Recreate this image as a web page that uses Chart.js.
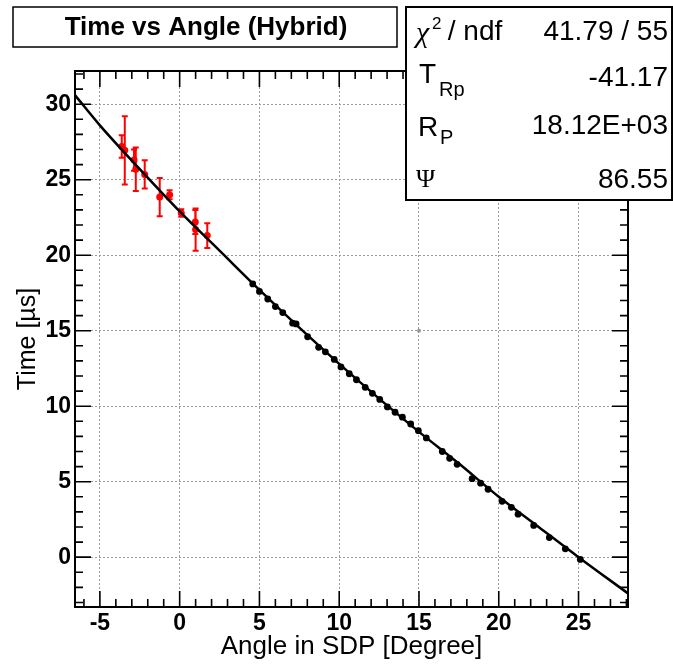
<!DOCTYPE html>
<html>
<head>
<meta charset="utf-8">
<script src="https://cdn.jsdelivr.net/npm/chart.js@4.4.0/dist/chart.umd.min.js"></script>
<style>
  body { margin: 0; background: #fff; }
  canvas { display: block; }
</style>
</head>
<body>
<canvas id="chart" width="673" height="664"></canvas>
<script>
// Values

const xTicks = [-5, 0, 5, 10, 15, 20, 25];
const yTicks = [0, 5, 10, 15, 20, 25, 30];

// FD pixels (black)
const fdAngle = [4.58, 5.0, 5.52, 6.0, 6.46, 7.08, 7.3, 8.02, 8.71, 9.13, 9.69, 10.11,
  10.63, 11.08, 11.63, 12.08, 12.54, 13.02, 13.5, 13.96, 14.48, 14.96, 15.46, 16.46,
  16.92, 17.39, 18.33, 18.86, 19.33, 20.21, 20.79, 21.21, 22.19, 23.17, 24.17, 25.11];
const fdTime = [18.1, 17.6, 17.1, 16.6, 16.2, 15.5, 15.45, 14.6, 13.9, 13.6, 13.1, 12.6,
  12.15, 11.75, 11.25, 10.85, 10.45, 9.95, 9.6, 9.27, 8.82, 8.38, 7.9, 7.0,
  6.55, 6.15, 5.2, 4.9, 4.5, 3.7, 3.3, 2.85, 2.1, 1.3, 0.55, -0.15];

// SD stations (red) with their errors
const sdAngle = [-3.63, -3.44, -2.86, -2.75, -2.19, -1.25, -0.63, 0.1, 0.98, 1.0, 1.73];
const sdTime = [27.2, 26.95, 26.3, 25.7, 25.35, 23.85, 24.0, 22.8, 22.2, 21.7, 21.3];
const sdErr = [0.75, 2.26, 0.7, 1.44, 0.94, 1.27, 0.3, 0.25, 0.8, 1.4, 0.82];

// the lone grey mark
const greyAngle = [15.0];
const greyTime = [15.0];

// fitted curve, read along its length
const fitAngle = [-6.56, -5, -2.5, 0, 2.5, 5, 7.5, 10, 12.5, 15, 17.5, 20, 22.5, 25, 28.1];
const fitTime = [30.6, 28.6, 25.7, 22.9, 20.3, 17.7, 15.2, 12.8, 10.5, 8.3, 6.2, 4.0, 2.0, 0.0, -2.4];

const statValues = ['41.79 / 55', '-41.17', '18.12E+03', '86.55'];

const FONT = '"Liberation Sans", Arial, sans-serif';
const SERIF = '"Liberation Serif", "DejaVu Serif", serif';

const toXY = (xs, ys) => xs.map((v, i) => ({ x: v, y: ys[i] }));

// ROOT-like frame, inward ticks, titles and stats box
const rootDecor = {
    id: 'rootDecor',
    beforeDatasetsDraw(chart) {
        const { ctx, scales: { x, y } } = chart;
        ctx.save();
        ctx.strokeStyle = '#ff0000';
        ctx.lineWidth = 2;
        ctx.beginPath();
        sdAngle.forEach((a, i) => {
            const px = x.getPixelForValue(a);
            const top = y.getPixelForValue(sdTime[i] + sdErr[i]);
            const bot = y.getPixelForValue(sdTime[i] - sdErr[i]);
            ctx.moveTo(px, top); ctx.lineTo(px, bot);
            ctx.moveTo(px - 3, top); ctx.lineTo(px + 3, top);
            ctx.moveTo(px - 3, bot); ctx.lineTo(px + 3, bot);
        });
        ctx.stroke();
        ctx.restore();
    },
    afterDraw(chart) {
        const { ctx, chartArea: a, scales: { x, y } } = chart;
        ctx.save();

        // frame
        ctx.strokeStyle = '#000';
        ctx.lineWidth = 2;
        ctx.strokeRect(a.left, a.top, a.right - a.left, a.bottom - a.top);

        // ticks, pointing inward on all four sides
        ctx.lineWidth = 1.6;
        ctx.beginPath();
        for (let v = Math.ceil(x.min); v <= x.max; v++) {
            const px = x.getPixelForValue(v);
            const len = v % 5 === 0 ? 16 : 8;
            ctx.moveTo(px, a.bottom); ctx.lineTo(px, a.bottom - len);
            ctx.moveTo(px, a.top); ctx.lineTo(px, a.top + len);
        }
        for (let v = Math.ceil(y.min); v <= y.max; v++) {
            const py = y.getPixelForValue(v);
            const len = v % 5 === 0 ? 16 : 8;
            ctx.moveTo(a.left, py); ctx.lineTo(a.left + len, py);
            ctx.moveTo(a.right, py); ctx.lineTo(a.right - len, py);
        }
        ctx.stroke();

        // axis titles
        ctx.fillStyle = '#000';
        ctx.font = '26px ' + FONT;
        ctx.textAlign = 'center';
        ctx.textBaseline = 'middle';
        ctx.fillText('Angle in SDP [Degree]', (a.left + a.right) / 2, 647);
        ctx.save();
        ctx.translate(28, (a.top + a.bottom) / 2);
        ctx.rotate(-Math.PI / 2);
        ctx.font = '25px ' + FONT;
        ctx.fillText('Time [\u00b5s]', 0, 0);
        ctx.restore();

        // title box
        ctx.fillStyle = '#fff';
        ctx.fillRect(13, 7, 384, 40);
        ctx.strokeStyle = '#000';
        ctx.lineWidth = 1.5;
        ctx.strokeRect(13, 7, 384, 40);
        ctx.fillStyle = '#000';
        ctx.font = 'bold 26px ' + FONT;
        ctx.fillText('Time vs Angle (Hybrid)', 206, 28);

        // stats box
        ctx.fillStyle = '#fff';
        ctx.fillRect(406, 7, 266, 193);
        ctx.lineWidth = 2;
        ctx.strokeRect(406, 7, 266, 193);
        ctx.fillStyle = '#000';
        ctx.textAlign = 'right';
        ctx.font = '28px ' + FONT;
        const rowY = [32, 78, 126, 180];
        statValues.forEach((s, i) => ctx.fillText(s, 668, rowY[i]));

        ctx.textAlign = 'left';
        // chi2 / ndf
        ctx.font = 'italic 30px ' + SERIF;
        ctx.fillText('\u03c7', 416, rowY[0] + 2);
        ctx.font = '17px ' + FONT;
        ctx.fillText('2', 432, rowY[0] - 8);
        ctx.font = '28px ' + FONT;
        ctx.fillText(' / ndf', 440, rowY[0]);
        // T_Rp
        ctx.fillText('T', 419, rowY[1] - 3);
        ctx.font = '20px ' + FONT;
        ctx.fillText('Rp', 439, rowY[1] + 12);
        // R_P
        ctx.font = '28px ' + FONT;
        ctx.fillText('R', 418, rowY[2] + 2);
        ctx.font = '20px ' + FONT;
        ctx.fillText('P', 440, rowY[2] + 12);
        // Psi
        ctx.font = '26px ' + SERIF;
        ctx.fillText('\u03a8', 416, rowY[3]);

        ctx.restore();
    }
};

const tickFont = { family: FONT, size: 23, weight: 'bold' };

new Chart(document.getElementById('chart'), {
    type: 'scatter',
    data: {
        datasets: [
            {
                label: 'fit',
                data: toXY(fitAngle, fitTime),
                showLine: true,
                borderColor: '#000',
                borderWidth: 2.5,
                pointRadius: 0,
                cubicInterpolationMode: 'monotone',
                order: 0
            },
            {
                label: 'SD',
                data: toXY(sdAngle, sdTime),
                backgroundColor: '#ff0000',
                borderColor: '#ff0000',
                pointRadius: 3.5,
                borderWidth: 0,
                order: 1
            },
            {
                label: 'FD',
                data: toXY(fdAngle, fdTime),
                backgroundColor: '#000',
                borderColor: '#000',
                pointRadius: 3.4,
                borderWidth: 0,
                order: 2
            },
            {
                label: 'grey',
                data: toXY(greyAngle, greyTime),
                backgroundColor: '#999',
                borderColor: '#999',
                pointRadius: 2,
                borderWidth: 0,
                order: 3
            }
        ]
    },
    options: {
        responsive: false,
        animation: false,
        devicePixelRatio: 1,
        layout: { padding: { left: 0, top: 71, right: 45, bottom: 0 } },
        plugins: {
            legend: { display: false },
            tooltip: { enabled: false }
        },
        scales: {
            x: {
                type: 'linear',
                min: -6.56,
                max: 28.1,
                afterBuildTicks: s => { s.ticks = xTicks.map(v => ({ value: v })); },
                afterFit: s => { s.height = 57; },
                grid: { color: '#9a9a9a', lineWidth: 1, drawTicks: false },
                border: { display: false, dash: [2, 2] },
                ticks: { color: '#000', font: tickFont, padding: 3, maxRotation: 0 }
            },
            y: {
                type: 'linear',
                min: -3.3,
                max: 32.2,
                afterBuildTicks: s => { s.ticks = yTicks.map(v => ({ value: v })); },
                afterFit: s => { s.width = 75; },
                grid: { color: '#9a9a9a', lineWidth: 1, drawTicks: false },
                border: { display: false, dash: [2, 2] },
                ticks: { color: '#000', font: tickFont, padding: 4 }
            }
        }
    },
    plugins: [rootDecor]
});
</script>
</body>
</html>
